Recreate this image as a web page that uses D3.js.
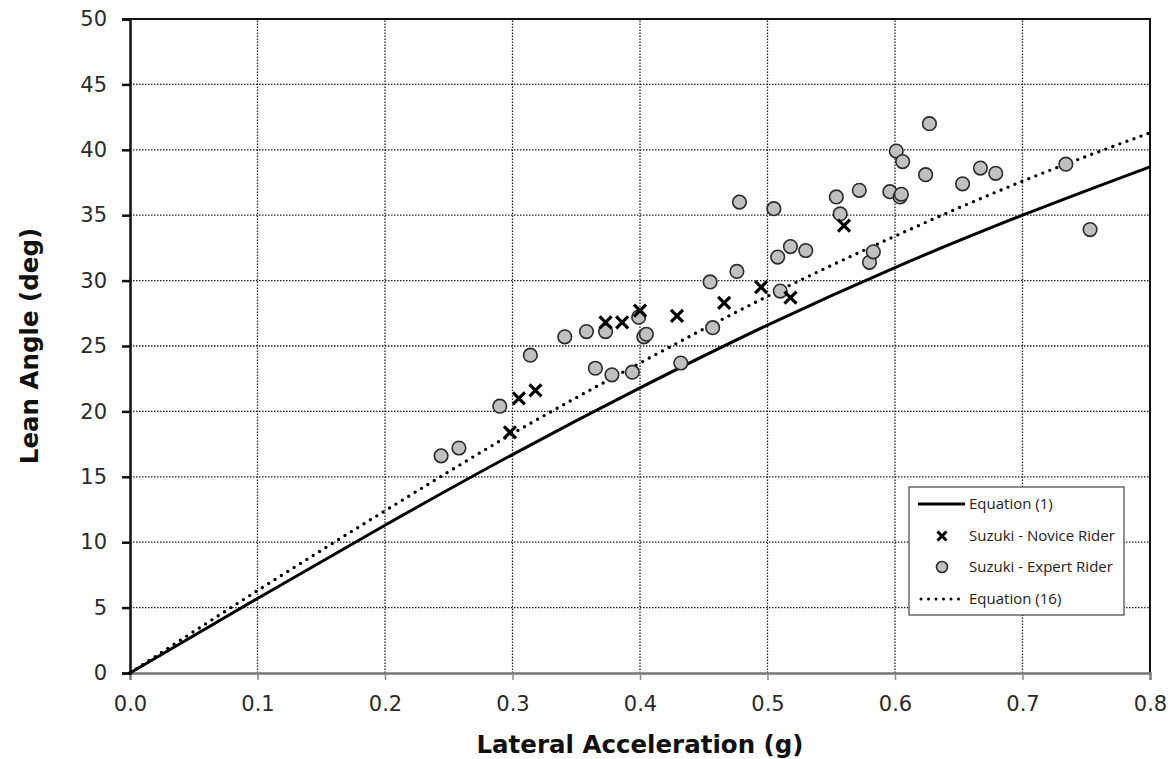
<!DOCTYPE html>
<html>
<head>
<meta charset="utf-8">
<script src="https://cdn.jsdelivr.net/npm/d3@7"></script>
<style>
  body { margin: 0; background: #fff; }
  svg text { fill: #111; }
</style>
</head>
<body>
<div id="vis"></div>
<script>
// values
var novice = [
  [0.298, 18.4], [0.305, 21.0], [0.318, 21.6], [0.373, 26.8], [0.386, 26.8],
  [0.400, 27.7], [0.429, 27.3], [0.466, 28.3], [0.495, 29.5], [0.518, 28.7],
  [0.560, 34.2]
];

var expert = [
  [0.244, 16.6], [0.258, 17.2], [0.290, 20.4], [0.314, 24.3], [0.341, 25.7],
  [0.358, 26.1], [0.373, 26.1], [0.365, 23.3], [0.378, 22.8], [0.394, 23.0],
  [0.399, 27.2], [0.403, 25.7], [0.405, 25.9], [0.432, 23.7], [0.455, 29.9],
  [0.457, 26.4], [0.476, 30.7], [0.478, 36.0], [0.505, 35.5], [0.508, 31.8],
  [0.510, 29.2], [0.518, 32.6], [0.530, 32.3], [0.554, 36.4], [0.557, 35.1],
  [0.572, 36.9], [0.580, 31.4], [0.583, 32.2], [0.596, 36.8], [0.601, 39.9],
  [0.604, 36.4], [0.605, 36.6], [0.606, 39.1], [0.624, 38.1], [0.627, 42.0],
  [0.653, 37.4], [0.667, 38.6], [0.679, 38.2], [0.734, 38.9], [0.753, 33.9]
];

var eq1 = [
  [0.0, 0.0], [0.1, 5.7], [0.2, 11.3], [0.3, 16.7], [0.4, 21.8],
  [0.5, 26.6], [0.6, 31.0], [0.7, 35.0], [0.8, 38.7]
];

var eq16 = [
  [0.0, 0.0], [0.1, 6.3], [0.2, 12.4], [0.3, 18.3], [0.4, 23.7],
  [0.5, 28.8], [0.6, 33.4], [0.7, 37.6], [0.8, 41.3]
];

var xTicks = [0, 0.1, 0.2, 0.3, 0.4, 0.5, 0.6, 0.7, 0.8];
var yTicks = [0, 5, 10, 15, 20, 25, 30, 35, 40, 45, 50];

var legendLabels = ['Equation (1)', 'Suzuki - Novice Rider', 'Suzuki - Expert Rider', 'Equation (16)'];

var width = 1176;
var height = 759;
var margin = { top: 19, left: 130, bottom: 86, right: 26 };
var tickFont = '"DejaVu Sans", sans-serif';

var svg = d3.select('#vis').append('svg')
  .attr('width', width)
  .attr('height', height);

var x = d3.scaleLinear().domain([0, 0.8]).range([margin.left, width - margin.right]);
var y = d3.scaleLinear().domain([0, 50]).range([height - margin.bottom, margin.top]);

// grid
var grid = svg.append('g').attr('class', 'grid');
grid.selectAll('.vgrid')
  .data(xTicks.slice(1, -1))
  .enter().append('line')
  .attr('x1', function (d) { return x(d); })
  .attr('x2', function (d) { return x(d); })
  .attr('y1', y(0)).attr('y2', y(50))
  .style('stroke', '#222').style('stroke-width', 1.3)
  .style('stroke-dasharray', '1.5,1.5');
grid.selectAll('.hgrid')
  .data(yTicks.slice(1, -1))
  .enter().append('line')
  .attr('x1', x(0)).attr('x2', x(0.8))
  .attr('y1', function (d) { return y(d); })
  .attr('y2', function (d) { return y(d); })
  .style('stroke', '#222').style('stroke-width', 1.3)
  .style('stroke-dasharray', '1.5,1.5');

// top & right frame
svg.append('path')
  .attr('d', 'M' + x(0) + ',' + y(50) + 'H' + x(0.8) + 'V' + y(0))
  .style('fill', 'none').style('stroke', '#111').style('stroke-width', 2);

// x axis
var xAxis = svg.append('g')
  .attr('transform', 'translate(0,' + y(0) + ')')
  .call(d3.axisBottom(x).tickValues(xTicks).tickSize(7).tickPadding(16).tickFormat(d3.format('.1f')));
xAxis.select('.domain').style('stroke', '#777').style('stroke-width', 2.5);
xAxis.selectAll('.tick line').style('stroke', '#888').style('stroke-width', 1.5);
xAxis.selectAll('text').style('font-family', tickFont).style('font-size', '21px').style('fill', '#2a2a2a');

// y axis
var yAxis = svg.append('g')
  .attr('transform', 'translate(' + x(0) + ',0)')
  .call(d3.axisLeft(y).tickValues(yTicks).tickSize(8).tickPadding(15));
yAxis.select('.domain').style('stroke', '#111').style('stroke-width', 2.5);
yAxis.selectAll('.tick line').style('stroke', '#111').style('stroke-width', 2.5);
yAxis.selectAll('text').style('font-family', tickFont).style('font-size', '21px').style('fill', '#2a2a2a');

// axis titles
svg.append('text')
  .attr('x', x(0.4)).attr('y', 753)
  .attr('text-anchor', 'middle')
  .style('font-family', tickFont).style('font-weight', 'bold').style('font-size', '24.5px')
  .text('Lateral Acceleration (g)');
svg.append('text')
  .attr('transform', 'translate(38,' + y(25) + ') rotate(-90)')
  .attr('text-anchor', 'middle')
  .style('font-family', tickFont).style('font-weight', 'bold').style('font-size', '24.5px')
  .text('Lean Angle (deg)');

var line = d3.line()
  .x(function (d) { return x(d[0]); })
  .y(function (d) { return y(d[1]); })
  .curve(d3.curveMonotoneX);

svg.append('path')
  .datum(eq1)
  .attr('d', line)
  .style('fill', 'none').style('stroke', '#000').style('stroke-width', 3);

svg.append('path')
  .datum(eq16)
  .attr('d', line)
  .style('fill', 'none').style('stroke', '#000').style('stroke-width', 3.4)
  .style('stroke-dasharray', '0,7.5').style('stroke-linecap', 'round');

// expert circles
svg.append('g').selectAll('circle')
  .data(expert)
  .enter().append('circle')
  .attr('cx', function (d) { return x(d[0]); })
  .attr('cy', function (d) { return y(d[1]); })
  .attr('r', 6.8)
  .style('fill', '#c0c0c0').style('stroke', '#2a2a2a').style('stroke-width', 1.6);

// novice crosses
var cross = function (s) { return 'M' + (-s) + ',' + (-s) + 'L' + s + ',' + s + 'M' + (-s) + ',' + s + 'L' + s + ',' + (-s); };
svg.append('g').selectAll('path')
  .data(novice)
  .enter().append('path')
  .attr('transform', function (d) { return 'translate(' + x(d[0]) + ',' + y(d[1]) + ')'; })
  .attr('d', cross(6))
  .style('stroke', '#000').style('stroke-width', 3.2);

// legend
var lg = svg.append('g').attr('transform', 'translate(909,487)');
lg.append('rect')
  .attr('width', 215).attr('height', 128)
  .style('fill', '#fff').style('stroke', '#444').style('stroke-width', 1.2);

var rowY = [17, 49, 80, 112];
var lgFont = '"Open Sans", sans-serif';
lg.selectAll('.lbl')
  .data(legendLabels)
  .enter().append('text')
  .attr('x', 60)
  .attr('y', function (d, i) { return rowY[i] + 5; })
  .style('font-family', lgFont).style('font-size', '15px').style('fill', '#222')
  .text(function (d) { return d; });

lg.append('line')
  .attr('x1', 9).attr('x2', 56).attr('y1', rowY[0]).attr('y2', rowY[0])
  .style('stroke', '#000').style('stroke-width', 3);
lg.append('path')
  .attr('transform', 'translate(33,' + rowY[1] + ')')
  .attr('d', cross(4.5))
  .style('stroke', '#000').style('stroke-width', 3);
lg.append('circle')
  .attr('cx', 33).attr('cy', rowY[2]).attr('r', 5.5)
  .style('fill', '#c0c0c0').style('stroke', '#2a2a2a').style('stroke-width', 1.6);
lg.append('line')
  .attr('x1', 12).attr('x2', 56).attr('y1', rowY[3]).attr('y2', rowY[3])
  .style('stroke', '#000').style('stroke-width', 3)
  .style('stroke-dasharray', '0,7.5').style('stroke-linecap', 'round');
</script>
</body>
</html>
